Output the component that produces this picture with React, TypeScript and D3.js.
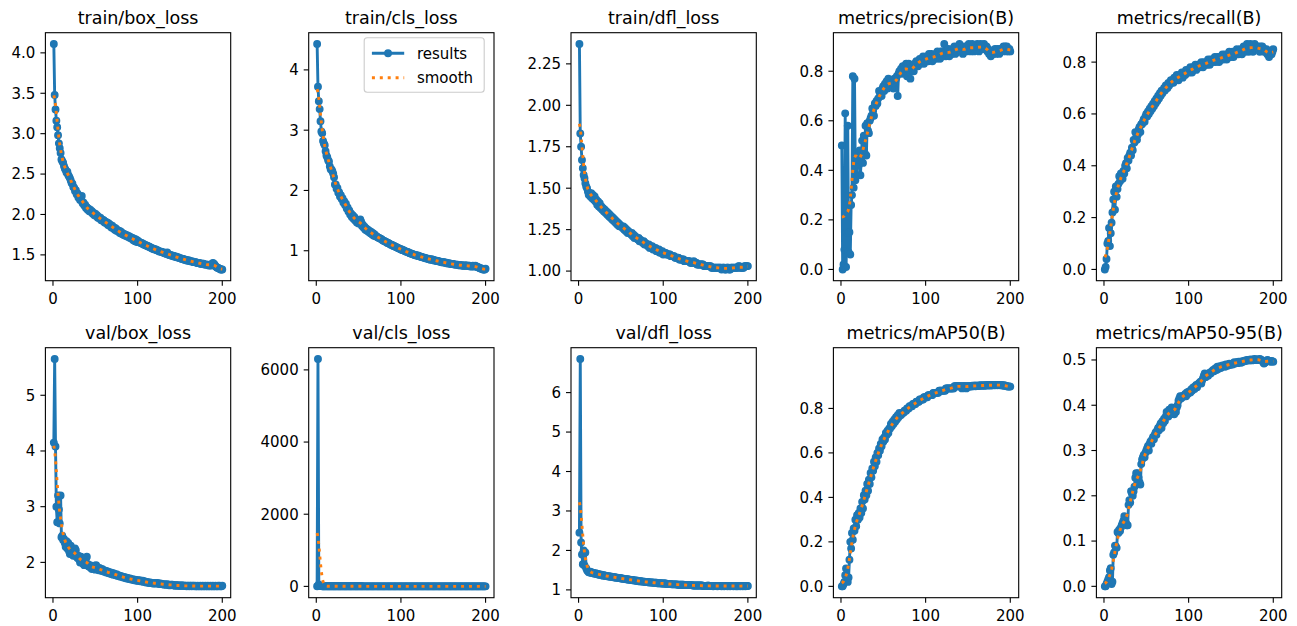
import React from 'react';
import * as d3 from 'd3';

// ---------------- DATA ----------------
const EPOCHS = d3.range(1, 201);

const TITLES = [
  'train/box_loss', 'train/cls_loss', 'train/dfl_loss', 'metrics/precision(B)', 'metrics/recall(B)',
  'val/box_loss', 'val/cls_loss', 'val/dfl_loss', 'metrics/mAP50(B)', 'metrics/mAP50-95(B)',
];

const TRAIN_BOX_LOSS = [
  4.11, 3.48, 3.30, 3.16, 3.08, 2.98, 2.88, 2.82, 2.76, 2.68,
  2.66, 2.64, 2.60, 2.57, 2.55, 2.52, 2.53, 2.49, 2.47, 2.45,
  2.42, 2.39, 2.38, 2.34, 2.33, 2.29, 2.30, 2.25, 2.26, 2.21,
  2.22, 2.18, 2.19, 2.23, 2.14, 2.15, 2.11, 2.12, 2.08, 2.09,
  2.06, 2.07, 2.04, 2.06, 2.03, 2.04, 2.01, 2.02, 1.99, 2.01,
  1.98, 1.99, 1.96, 1.97, 1.95, 1.96, 1.93, 1.94, 1.92, 1.93,
  1.90, 1.91, 1.89, 1.90, 1.87, 1.89, 1.86, 1.87, 1.84, 1.86,
  1.83, 1.84, 1.81, 1.83, 1.80, 1.81, 1.79, 1.80, 1.77, 1.79,
  1.76, 1.77, 1.75, 1.76, 1.74, 1.75, 1.73, 1.74, 1.72, 1.73,
  1.71, 1.72, 1.70, 1.71, 1.68, 1.70, 1.67, 1.69, 1.66, 1.68,
  1.66, 1.66, 1.65, 1.65, 1.64, 1.64, 1.63, 1.63, 1.62, 1.62,
  1.61, 1.61, 1.60, 1.60, 1.59, 1.59, 1.58, 1.58, 1.57, 1.57,
  1.57, 1.56, 1.56, 1.55, 1.55, 1.54, 1.54, 1.54, 1.53, 1.53,
  1.53, 1.52, 1.52, 1.51, 1.53, 1.51, 1.50, 1.50, 1.50, 1.49,
  1.49, 1.49, 1.48, 1.48, 1.48, 1.47, 1.47, 1.47, 1.46, 1.46,
  1.46, 1.45, 1.45, 1.45, 1.44, 1.44, 1.44, 1.43, 1.43, 1.43,
  1.43, 1.42, 1.42, 1.42, 1.42, 1.41, 1.41, 1.41, 1.41, 1.40,
  1.40, 1.40, 1.40, 1.39, 1.39, 1.39, 1.39, 1.39, 1.38, 1.38,
  1.38, 1.38, 1.38, 1.37, 1.37, 1.37, 1.37, 1.39, 1.40, 1.39,
  1.38, 1.36, 1.35, 1.34, 1.34, 1.33, 1.33, 1.32, 1.32, 1.32,
];

const TRAIN_CLS_LOSS = [
  4.43, 3.72, 3.48, 3.35, 3.15, 2.98, 2.95, 2.82, 2.78, 2.75,
  2.65, 2.58, 2.55, 2.50, 2.48, 2.40, 2.35, 2.35, 2.32, 2.28,
  2.22, 2.10, 2.10, 2.03, 2.04, 1.96, 1.97, 1.90, 1.92, 1.86,
  1.87, 1.80, 1.82, 1.76, 1.78, 1.70, 1.72, 1.65, 1.67, 1.60,
  1.62, 1.56, 1.59, 1.53, 1.56, 1.50, 1.52, 1.47, 1.50, 1.45,
  1.47, 1.52, 1.48, 1.41, 1.43, 1.38, 1.40, 1.35, 1.37, 1.33,
  1.35, 1.31, 1.33, 1.29, 1.31, 1.27, 1.29, 1.25, 1.27, 1.24,
  1.24, 1.23, 1.22, 1.21, 1.21, 1.20, 1.19, 1.18, 1.17, 1.16,
  1.16, 1.15, 1.14, 1.13, 1.13, 1.12, 1.11, 1.10, 1.10, 1.09,
  1.08, 1.08, 1.07, 1.06, 1.06, 1.05, 1.04, 1.04, 1.03, 1.02,
  1.02, 1.01, 1.01, 1.00, 0.99, 0.99, 0.98, 0.98, 0.97, 0.96,
  0.96, 0.95, 0.95, 0.94, 0.94, 0.93, 0.93, 0.92, 0.92, 0.92,
  0.91, 0.91, 0.90, 0.90, 0.89, 0.89, 0.89, 0.88, 0.88, 0.87,
  0.87, 0.87, 0.86, 0.86, 0.85, 0.86, 0.85, 0.85, 0.84, 0.84,
  0.84, 0.83, 0.83, 0.83, 0.82, 0.82, 0.82, 0.81, 0.81, 0.81,
  0.81, 0.80, 0.80, 0.80, 0.79, 0.79, 0.79, 0.79, 0.78, 0.78,
  0.78, 0.78, 0.77, 0.77, 0.77, 0.77, 0.77, 0.76, 0.76, 0.76,
  0.76, 0.76, 0.75, 0.75, 0.75, 0.76, 0.75, 0.75, 0.75, 0.75,
  0.75, 0.74, 0.74, 0.74, 0.75, 0.74, 0.74, 0.75, 0.74, 0.73,
  0.73, 0.72, 0.71, 0.71, 0.70, 0.70, 0.69, 0.69, 0.69, 0.70,
];

const TRAIN_DFL_LOSS = [
  2.37, 1.83, 1.75, 1.67, 1.62, 1.58, 1.56, 1.53, 1.51, 1.50,
  1.48, 1.46, 1.47, 1.45, 1.47, 1.44, 1.46, 1.43, 1.45, 1.42,
  1.43, 1.40, 1.42, 1.39, 1.41, 1.38, 1.39, 1.37, 1.38, 1.36,
  1.37, 1.35, 1.36, 1.34, 1.35, 1.33, 1.34, 1.32, 1.33, 1.31,
  1.32, 1.30, 1.31, 1.29, 1.30, 1.28, 1.29, 1.27, 1.28, 1.27,
  1.27, 1.26, 1.27, 1.25, 1.26, 1.24, 1.25, 1.23, 1.24, 1.23,
  1.23, 1.22, 1.23, 1.21, 1.22, 1.20, 1.21, 1.20, 1.20, 1.19,
  1.20, 1.18, 1.19, 1.18, 1.18, 1.17, 1.18, 1.16, 1.17, 1.16,
  1.16, 1.15, 1.16, 1.14, 1.15, 1.14, 1.15, 1.13, 1.14, 1.13,
  1.14, 1.12, 1.13, 1.12, 1.13, 1.11, 1.12, 1.11, 1.12, 1.10,
  1.11, 1.11, 1.11, 1.10, 1.10, 1.10, 1.10, 1.10, 1.09, 1.09,
  1.09, 1.09, 1.09, 1.08, 1.08, 1.08, 1.08, 1.08, 1.07, 1.07,
  1.07, 1.07, 1.07, 1.07, 1.06, 1.06, 1.06, 1.06, 1.06, 1.06,
  1.06, 1.05, 1.05, 1.05, 1.05, 1.06, 1.05, 1.05, 1.05, 1.04,
  1.04, 1.04, 1.04, 1.04, 1.04, 1.04, 1.04, 1.03, 1.03, 1.03,
  1.03, 1.03, 1.03, 1.03, 1.03, 1.03, 1.02, 1.02, 1.02, 1.02,
  1.02, 1.02, 1.02, 1.02, 1.02, 1.02, 1.02, 1.02, 1.01, 1.02,
  1.02, 1.02, 1.01, 1.01, 1.02, 1.02, 1.02, 1.01, 1.01, 1.02,
  1.02, 1.02, 1.02, 1.02, 1.02, 1.02, 1.02, 1.02, 1.03, 1.03,
  1.02, 1.02, 1.02, 1.02, 1.02, 1.03, 1.03, 1.03, 1.03, 1.03,
];

const PRECISION = [
  0.50, 0.00, 0.02, 0.08, 0.63, 0.01, 0.15, 0.58, 0.07, 0.15,
  0.06, 0.26, 0.30, 0.78, 0.33, 0.77, 0.36, 0.44, 0.38, 0.47,
  0.42, 0.48, 0.38, 0.45, 0.52, 0.43, 0.54, 0.47, 0.58, 0.46,
  0.59, 0.56, 0.55, 0.60, 0.61, 0.62, 0.65, 0.64, 0.62, 0.67,
  0.66, 0.68, 0.67, 0.69, 0.72, 0.70, 0.71, 0.70, 0.73, 0.74,
  0.72, 0.75, 0.74, 0.76, 0.73, 0.77, 0.75, 0.74, 0.76, 0.76,
  0.75, 0.73, 0.77, 0.76, 0.77, 0.78, 0.70, 0.79, 0.80, 0.80,
  0.81, 0.79, 0.82, 0.80, 0.82, 0.81, 0.83, 0.78, 0.81, 0.83,
  0.80, 0.77, 0.82, 0.81, 0.82, 0.80, 0.83, 0.82, 0.84, 0.83,
  0.82, 0.84, 0.85, 0.83, 0.85, 0.84, 0.86, 0.83, 0.85, 0.84,
  0.86, 0.85, 0.84, 0.87, 0.86, 0.85, 0.87, 0.84, 0.86, 0.85,
  0.86, 0.87, 0.85, 0.88, 0.86, 0.87, 0.85, 0.88, 0.87, 0.88,
  0.86, 0.91, 0.87, 0.86, 0.88, 0.87, 0.89, 0.86, 0.88, 0.88,
  0.87, 0.89, 0.88, 0.90, 0.87, 0.89, 0.88, 0.90, 0.89, 0.91,
  0.90, 0.88, 0.89, 0.87, 0.88, 0.90, 0.89, 0.88, 0.90, 0.89,
  0.91, 0.90, 0.88, 0.89, 0.91, 0.90, 0.88, 0.89, 0.90, 0.89,
  0.91, 0.90, 0.88, 0.90, 0.91, 0.89, 0.90, 0.89, 0.91, 0.90,
  0.89, 0.90, 0.88, 0.89, 0.87, 0.88, 0.86, 0.87, 0.88, 0.87,
  0.88, 0.89, 0.87, 0.88, 0.89, 0.88, 0.87, 0.89, 0.88, 0.89,
  0.88, 0.90, 0.89, 0.90, 0.88, 0.90, 0.89, 0.88, 0.89, 0.88,
];

const RECALL = [
  0.00, 0.01, 0.04, 0.10, 0.11, 0.16, 0.09, 0.14, 0.18, 0.22,
  0.27, 0.30, 0.23, 0.32, 0.28, 0.31, 0.33, 0.36, 0.34, 0.37,
  0.36, 0.35, 0.38, 0.37, 0.40, 0.41, 0.39, 0.43, 0.42, 0.44,
  0.45, 0.44, 0.47, 0.46, 0.50, 0.49, 0.53, 0.51, 0.50, 0.52,
  0.54, 0.55, 0.53, 0.56, 0.56, 0.57, 0.58, 0.57, 0.59, 0.60,
  0.59, 0.61, 0.60, 0.62, 0.61, 0.63, 0.62, 0.64, 0.63, 0.65,
  0.64, 0.66, 0.65, 0.67, 0.66, 0.68, 0.67, 0.69, 0.68, 0.69,
  0.70, 0.69, 0.71, 0.70, 0.70, 0.72, 0.71, 0.72, 0.73, 0.72,
  0.73, 0.72, 0.74, 0.73, 0.73, 0.75, 0.74, 0.73, 0.75, 0.74,
  0.75, 0.76, 0.74, 0.75, 0.76, 0.75, 0.77, 0.76, 0.76, 0.77,
  0.76, 0.78, 0.77, 0.76, 0.78, 0.77, 0.78, 0.79, 0.77, 0.78,
  0.79, 0.78, 0.79, 0.78, 0.80, 0.79, 0.78, 0.80, 0.79, 0.79,
  0.80, 0.79, 0.81, 0.80, 0.79, 0.81, 0.80, 0.81, 0.80, 0.81,
  0.82, 0.80, 0.81, 0.82, 0.81, 0.80, 0.82, 0.81, 0.82, 0.83,
  0.81, 0.82, 0.83, 0.82, 0.81, 0.83, 0.82, 0.84, 0.83, 0.82,
  0.83, 0.84, 0.82, 0.83, 0.84, 0.83, 0.85, 0.84, 0.83, 0.84,
  0.85, 0.84, 0.83, 0.85, 0.86, 0.85, 0.84, 0.86, 0.87, 0.85,
  0.84, 0.86, 0.87, 0.85, 0.86, 0.84, 0.86, 0.87, 0.85, 0.86,
  0.85, 0.86, 0.85, 0.84, 0.86, 0.85, 0.86, 0.85, 0.84, 0.85,
  0.84, 0.85, 0.83, 0.84, 0.82, 0.83, 0.84, 0.83, 0.84, 0.85,
];

const VAL_BOX_LOSS = [
  4.15, 5.65, 4.08, 3.00, 2.72, 3.20, 2.95, 2.70, 3.20, 2.45,
  2.48, 2.40, 2.42, 2.35, 2.28, 2.38, 2.25, 2.35, 2.20, 2.15,
  2.30, 2.18, 2.20, 2.12, 2.15, 2.25, 2.22, 2.10, 2.08, 2.12,
  2.05, 2.00, 2.10, 2.02, 1.98, 2.05, 1.95, 2.00, 2.08, 2.10,
  1.97, 1.93, 1.92, 1.95, 1.90, 1.88, 1.93, 1.90, 1.94, 1.87,
  1.95, 1.92, 1.88, 1.86, 1.90, 1.87, 1.85, 1.88, 1.84, 1.86,
  1.83, 1.85, 1.82, 1.84, 1.81, 1.83, 1.80, 1.82, 1.79, 1.81,
  1.78, 1.80, 1.78, 1.77, 1.79, 1.76, 1.77, 1.75, 1.76, 1.74,
  1.75, 1.74, 1.73, 1.74, 1.72, 1.73, 1.71, 1.72, 1.71, 1.70,
  1.71, 1.70, 1.69, 1.70, 1.69, 1.68, 1.69, 1.68, 1.67, 1.68,
  1.67, 1.68, 1.66, 1.67, 1.66, 1.67, 1.65, 1.66, 1.65, 1.64,
  1.65, 1.64, 1.64, 1.63, 1.64, 1.63, 1.63, 1.62, 1.63, 1.62,
  1.63, 1.62, 1.63, 1.62, 1.62, 1.61, 1.62, 1.61, 1.61, 1.61,
  1.60, 1.61, 1.60, 1.60, 1.61, 1.60, 1.59, 1.60, 1.59, 1.60,
  1.60, 1.59, 1.59, 1.58, 1.59, 1.59, 1.58, 1.59, 1.58, 1.58,
  1.58, 1.59, 1.58, 1.58, 1.58, 1.58, 1.58, 1.57, 1.58, 1.58,
  1.57, 1.58, 1.58, 1.57, 1.58, 1.58, 1.57, 1.58, 1.57, 1.57,
  1.58, 1.57, 1.57, 1.58, 1.57, 1.57, 1.58, 1.57, 1.57, 1.58,
  1.57, 1.57, 1.58, 1.57, 1.57, 1.58, 1.57, 1.57, 1.58, 1.57,
  1.57, 1.58, 1.57, 1.57, 1.58, 1.57, 1.58, 1.57, 1.57, 1.58,
];

const VAL_CLS_LOSS = [
  3.1, 6300, 52, 18, 9.5, 6.8, 5.2, 4.6, 4.1, 3.8,
  3.5, 3.3, 3.1, 3.0, 2.9, 2.8, 2.7, 2.6, 2.6, 2.5,
  2.5, 2.4, 2.4, 2.3, 2.3, 2.2, 2.2, 2.2, 2.1, 2.1,
  2.1, 2.0, 2.0, 2.0, 2.0, 1.9, 1.9, 1.9, 1.9, 1.9,
  1.8, 1.8, 1.8, 1.8, 1.8, 1.8, 1.7, 1.7, 1.7, 1.7,
  1.7, 1.7, 1.7, 1.7, 1.6, 1.6, 1.6, 1.6, 1.6, 1.6,
  1.6, 1.6, 1.6, 1.6, 1.6, 1.5, 1.5, 1.5, 1.5, 1.5,
  1.5, 1.5, 1.5, 1.5, 1.5, 1.5, 1.5, 1.5, 1.5, 1.5,
  1.5, 1.5, 1.5, 1.5, 1.5, 1.5, 1.5, 1.5, 1.5, 1.5,
  1.4, 1.4, 1.4, 1.4, 1.4, 1.4, 1.4, 1.4, 1.4, 1.4,
  1.4, 1.4, 1.4, 1.4, 1.4, 1.4, 1.4, 1.4, 1.4, 1.4,
  1.4, 1.4, 1.4, 1.4, 1.4, 1.4, 1.4, 1.4, 1.4, 1.4,
  1.4, 1.4, 1.4, 1.4, 1.4, 1.4, 1.4, 1.4, 1.4, 1.4,
  1.4, 1.4, 1.4, 1.4, 1.4, 1.4, 1.4, 1.4, 1.4, 1.4,
  1.3, 1.3, 1.3, 1.3, 1.3, 1.3, 1.3, 1.3, 1.3, 1.3,
  1.3, 1.3, 1.3, 1.3, 1.3, 1.3, 1.3, 1.3, 1.3, 1.3,
  1.3, 1.3, 1.3, 1.3, 1.3, 1.3, 1.3, 1.3, 1.3, 1.3,
  1.3, 1.3, 1.3, 1.3, 1.3, 1.3, 1.3, 1.3, 1.3, 1.3,
  1.3, 1.3, 1.3, 1.3, 1.3, 1.3, 1.3, 1.3, 1.3, 1.3,
  1.3, 1.3, 1.3, 1.3, 1.3, 1.3, 1.3, 1.3, 1.3, 1.3,
];

const VAL_DFL_LOSS = [
  2.45, 6.85, 2.20, 1.90, 1.65, 2.00, 1.62, 1.95, 1.55, 1.50,
  1.47, 1.45, 1.44, 1.46, 1.43, 1.44, 1.42, 1.43, 1.41, 1.42,
  1.40, 1.41, 1.39, 1.40, 1.38, 1.39, 1.37, 1.38, 1.36, 1.37,
  1.36, 1.36, 1.35, 1.35, 1.34, 1.35, 1.33, 1.34, 1.33, 1.33,
  1.32, 1.32, 1.32, 1.31, 1.31, 1.31, 1.30, 1.30, 1.30, 1.29,
  1.29, 1.29, 1.28, 1.28, 1.28, 1.27, 1.27, 1.27, 1.26, 1.26,
  1.26, 1.25, 1.25, 1.25, 1.24, 1.24, 1.24, 1.23, 1.23, 1.23,
  1.22, 1.22, 1.22, 1.22, 1.21, 1.21, 1.21, 1.21, 1.20, 1.20,
  1.20, 1.20, 1.19, 1.19, 1.19, 1.19, 1.19, 1.18, 1.18, 1.18,
  1.18, 1.18, 1.17, 1.17, 1.17, 1.17, 1.17, 1.16, 1.16, 1.16,
  1.16, 1.16, 1.16, 1.15, 1.15, 1.15, 1.15, 1.15, 1.15, 1.14,
  1.14, 1.14, 1.14, 1.14, 1.14, 1.14, 1.13, 1.13, 1.13, 1.13,
  1.13, 1.13, 1.13, 1.13, 1.12, 1.12, 1.12, 1.12, 1.12, 1.12,
  1.12, 1.12, 1.12, 1.12, 1.11, 1.11, 1.11, 1.11, 1.11, 1.11,
  1.11, 1.11, 1.11, 1.11, 1.11, 1.11, 1.10, 1.10, 1.10, 1.10,
  1.10, 1.10, 1.11, 1.10, 1.10, 1.10, 1.10, 1.10, 1.09, 1.10,
  1.10, 1.10, 1.10, 1.09, 1.10, 1.10, 1.10, 1.10, 1.09, 1.10,
  1.10, 1.09, 1.10, 1.10, 1.10, 1.09, 1.10, 1.10, 1.09, 1.10,
  1.10, 1.10, 1.09, 1.10, 1.10, 1.09, 1.10, 1.09, 1.10, 1.10,
  1.09, 1.10, 1.10, 1.09, 1.10, 1.10, 1.09, 1.10, 1.10, 1.10,
];

const MAP50 = [
  0.00, 0.00, 0.01, 0.02, 0.05, 0.08, 0.03, 0.02, 0.04, 0.12,
  0.20, 0.17, 0.24, 0.21, 0.26, 0.25, 0.30, 0.27, 0.32, 0.30,
  0.33, 0.31, 0.35, 0.33, 0.38, 0.35, 0.41, 0.39, 0.43, 0.41,
  0.46, 0.43, 0.48, 0.46, 0.51, 0.49, 0.53, 0.52, 0.56, 0.54,
  0.58, 0.56, 0.60, 0.59, 0.62, 0.61, 0.64, 0.63, 0.66, 0.65,
  0.67, 0.66, 0.69, 0.68, 0.70, 0.69, 0.71, 0.71, 0.73, 0.72,
  0.74, 0.73, 0.75, 0.74, 0.76, 0.75, 0.77, 0.76, 0.78, 0.77,
  0.77, 0.78, 0.78, 0.78, 0.79, 0.79, 0.79, 0.80, 0.80, 0.80,
  0.81, 0.81, 0.81, 0.81, 0.82, 0.82, 0.82, 0.82, 0.83, 0.83,
  0.83, 0.83, 0.84, 0.84, 0.84, 0.84, 0.84, 0.85, 0.85, 0.85,
  0.85, 0.85, 0.86, 0.86, 0.86, 0.86, 0.86, 0.86, 0.87, 0.87,
  0.87, 0.87, 0.87, 0.87, 0.87, 0.88, 0.88, 0.88, 0.88, 0.88,
  0.88, 0.88, 0.88, 0.89, 0.89, 0.89, 0.89, 0.89, 0.89, 0.89,
  0.89, 0.89, 0.89, 0.90, 0.90, 0.90, 0.90, 0.90, 0.90, 0.90,
  0.90, 0.90, 0.89, 0.90, 0.90, 0.90, 0.90, 0.89, 0.90, 0.90,
  0.900, 0.897, 0.901, 0.899, 0.902, 0.900, 0.901, 0.903, 0.900, 0.902,
  0.902, 0.901, 0.903, 0.902, 0.904, 0.902, 0.903, 0.904, 0.902, 0.903,
  0.904, 0.903, 0.905, 0.903, 0.904, 0.905, 0.903, 0.904, 0.905, 0.904,
  0.905, 0.904, 0.906, 0.905, 0.904, 0.906, 0.905, 0.904, 0.905, 0.904,
  0.903, 0.904, 0.902, 0.903, 0.901, 0.900, 0.899, 0.898, 0.899, 0.898,
];

const MAP50_95 = [
  0.000, 0.000, 0.005, 0.010, 0.015, 0.020, 0.035, 0.040, 0.005, 0.010,
  0.070, 0.075, 0.090, 0.088, 0.085, 0.120, 0.118, 0.125, 0.122, 0.130,
  0.135, 0.140, 0.145, 0.155, 0.150, 0.140, 0.135, 0.135, 0.180, 0.190,
  0.185, 0.210, 0.205, 0.200, 0.210, 0.220, 0.240, 0.250, 0.245, 0.250,
  0.240, 0.230, 0.225, 0.270, 0.280, 0.285, 0.290, 0.285, 0.295, 0.300,
  0.305, 0.310, 0.300, 0.315, 0.320, 0.315, 0.325, 0.330, 0.325, 0.335,
  0.340, 0.335, 0.345, 0.350, 0.345, 0.355, 0.360, 0.350, 0.365, 0.360,
  0.370, 0.365, 0.375, 0.385, 0.380, 0.375, 0.390, 0.385, 0.380, 0.395,
  0.390, 0.385, 0.380, 0.390, 0.385, 0.395, 0.400, 0.410, 0.415, 0.420,
  0.415, 0.420, 0.418, 0.420, 0.422, 0.425, 0.420, 0.428, 0.425, 0.430,
  0.430, 0.428, 0.435, 0.432, 0.438, 0.440, 0.436, 0.442, 0.445, 0.440,
  0.446, 0.448, 0.450, 0.452, 0.448, 0.455, 0.460, 0.465, 0.470, 0.462,
  0.466, 0.468, 0.465, 0.470, 0.472, 0.470, 0.474, 0.476, 0.478, 0.475,
  0.480, 0.482, 0.478, 0.485, 0.480, 0.484, 0.486, 0.482, 0.485, 0.488,
  0.486, 0.488, 0.485, 0.490, 0.488, 0.487, 0.490, 0.492, 0.489, 0.491,
  0.492, 0.490, 0.493, 0.495, 0.492, 0.494, 0.495, 0.493, 0.496, 0.495,
  0.496, 0.494, 0.497, 0.496, 0.498, 0.497, 0.499, 0.498, 0.500, 0.499,
  0.500, 0.499, 0.501, 0.500, 0.499, 0.501, 0.500, 0.502, 0.500, 0.501,
  0.500, 0.501, 0.500, 0.502, 0.501, 0.500, 0.498, 0.495, 0.492, 0.494,
  0.496, 0.498, 0.500, 0.499, 0.498, 0.497, 0.496, 0.498, 0.497, 0.496,
];

const SERIES = [
  TRAIN_BOX_LOSS, TRAIN_CLS_LOSS, TRAIN_DFL_LOSS, PRECISION, RECALL,
  VAL_BOX_LOSS, VAL_CLS_LOSS, VAL_DFL_LOSS, MAP50, MAP50_95,
];

const X_TICKS = [0, 100, 200];
const Y_TICKS = [
  [1.5, 2.0, 2.5, 3.0, 3.5, 4.0],
  [1, 2, 3, 4],
  [1.0, 1.25, 1.5, 1.75, 2.0, 2.25],
  [0, 0.2, 0.4, 0.6, 0.8],
  [0, 0.2, 0.4, 0.6, 0.8],
  [2, 3, 4, 5],
  [0, 2000, 4000, 6000],
  [1, 2, 3, 4, 5, 6],
  [0, 0.2, 0.4, 0.6, 0.8],
  [0, 0.1, 0.2, 0.3, 0.4, 0.5],
];
const Y_DECIMALS = [1, 0, 2, 1, 1, 0, 0, 0, 1, 1];
const LEGEND_LABELS = ['results', 'smooth'];

// ---------------- LAYOUT / STYLE ----------------
const W = 1297;
const H = 626;
const COL_LEFT = [45.4, 308.7, 571.0, 833.4, 1096.4];
const AX_W = 185.3;
const ROW_TOP = [32.7, 347.7];
const ROW_H = [248, 250];
// explicit y-limits where the reference axis is not the plain 5% autoscale
const Y_LIMITS: (number[] | null)[] = [null, null, null, null, null, null, null, null, [-0.051, 1.073], null];
const C0 = '#1f77b4';
const C1 = '#ff7f0e';
const FONT = 'DejaVu Sans, sans-serif';
const TICK_FS = 15;
const TITLE_FS = 17.5;
const MARKER_R = 3.2;

function gaussianSmooth(y: number[], sigma = 3): number[] {
  const r = Math.round(4 * sigma);
  const w: number[] = [];
  for (let k = -r; k <= r; k++) w.push(Math.exp(-0.5 * (k / sigma) ** 2));
  const s = d3.sum(w);
  const n = y.length;
  const idx = (i: number) => {
    const p = 2 * n;
    const j = ((i % p) + p) % p;
    return j < n ? j : p - 1 - j;
  };
  return y.map((_, i) => {
    let acc = 0;
    for (let k = -r; k <= r; k++) acc += w[k + r] * y[idx(i + k)];
    return acc / s;
  });
}

function Panel({ index }: { index: number }) {
  const col = index % 5;
  const row = Math.floor(index / 5);
  const left = COL_LEFT[col];
  const top = ROW_TOP[row];
  const h = ROW_H[row];
  const right = left + AX_W;
  const bottom = top + h;
  const ys = SERIES[index];
  const sm = gaussianSmooth(ys, 3);
  const xMin = d3.min(EPOCHS)!;
  const xMax = d3.max(EPOCHS)!;
  const xPad = (xMax - xMin) * 0.05;
  const x = d3.scaleLinear().domain([xMin - xPad, xMax + xPad]).range([left, right]);
  const yMin = Math.min(d3.min(ys)!, d3.min(sm)!);
  const yMax = Math.max(d3.max(ys)!, d3.max(sm)!);
  const yPad = (yMax - yMin) * 0.05;
  const yDom = Y_LIMITS[index] || [yMin - yPad, yMax + yPad];
  const y = d3.scaleLinear().domain(yDom).range([bottom, top]);
  const line = d3.line<number>().x((_, i) => x(EPOCHS[i])).y((d) => y(d));
  const fmt = d3.format(`.${Y_DECIMALS[index]}f`);
  const clipId = `clip-${index}`;
  return (
    <g>
      <defs>
        <clipPath id={clipId}>
          <rect x={left} y={top} width={AX_W} height={h} />
        </clipPath>
      </defs>
      <g clipPath={`url(#${clipId})`}>
        <path d={line(ys) || ''} fill="none" stroke={C0} strokeWidth={2.9} strokeLinejoin="round" strokeLinecap="round" />
        {ys.map((v, i) => (
          <circle key={i} cx={x(EPOCHS[i])} cy={y(v)} r={MARKER_R} fill={C0} stroke={C0} strokeWidth={1.5} />
        ))}
        <path d={line(sm) || ''} fill="none" stroke={C1} strokeWidth={2.9} strokeDasharray="3,4.9" strokeLinecap="butt" />
      </g>
      <rect x={left} y={top} width={AX_W} height={h} fill="none" stroke="#000" strokeWidth={1.1} />
      {X_TICKS.map((t) => (
        <g key={`x${t}`}>
          <line x1={x(t)} x2={x(t)} y1={bottom} y2={bottom + 5} stroke="#000" strokeWidth={1.1} />
          <text x={x(t)} y={bottom + 23.5} textAnchor="middle" fontSize={TICK_FS} fontFamily={FONT} fill="#000">{t}</text>
        </g>
      ))}
      {Y_TICKS[index].map((t) => (
        <g key={`y${t}`}>
          <line x1={left - 5} x2={left} y1={y(t)} y2={y(t)} stroke="#000" strokeWidth={1.1} />
          <text x={left - 10} y={y(t)} dy="0.36em" textAnchor="end" fontSize={TICK_FS} fontFamily={FONT} fill="#000">{fmt(t)}</text>
        </g>
      ))}
      <text x={(left + right) / 2} y={top - 9} textAnchor="middle" fontSize={TITLE_FS} fontFamily={FONT} fill="#000">{TITLES[index]}</text>
    </g>
  );
}

function Legend() {
  const left = COL_LEFT[1];
  const top = ROW_TOP[0];
  const bx = left + 55.5;
  const by = top + 5;
  const bw = 120;
  const bh = 54.6;
  const hx1 = bx + 7.7;
  const hx2 = hx1 + 32.3;
  const r1 = by + 15.6;
  const r2 = by + 40;
  return (
    <g>
      <rect x={bx} y={by} width={bw} height={bh} rx={3} ry={3} fill="#fff" fillOpacity={0.8} stroke="#cccccc" strokeWidth={1.1} />
      <line x1={hx1} x2={hx2} y1={r1} y2={r1} stroke={C0} strokeWidth={2.9} />
      <circle cx={(hx1 + hx2) / 2} cy={r1} r={MARKER_R} fill={C0} stroke={C0} strokeWidth={1.5} />
      <text x={hx2 + 12.7} y={r1} dy="0.36em" fontSize={TICK_FS} fontFamily={FONT} fill="#000">{LEGEND_LABELS[0]}</text>
      <line x1={hx1} x2={hx2} y1={r2} y2={r2} stroke={C1} strokeWidth={2.9} strokeDasharray="3,4.9" />
      <text x={hx2 + 12.7} y={r2} dy="0.36em" fontSize={TICK_FS} fontFamily={FONT} fill="#000">{LEGEND_LABELS[1]}</text>
    </g>
  );
}

export default function App() {
  return (
    <svg width={W} height={H} style={{ position: 'absolute', left: 0, top: 0, background: '#fff' }}>
      <rect x={0} y={0} width={W} height={H} fill="#fff" />
      {TITLES.map((_, i) => <Panel key={i} index={i} />)}
      <Legend />
    </svg>
  );
}
